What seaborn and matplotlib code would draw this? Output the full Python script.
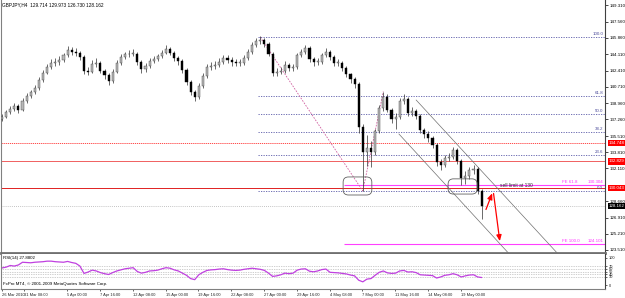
import numpy as np
import pandas as pd
import matplotlib
matplotlib.use("Agg")
import matplotlib.pyplot as plt
import seaborn as sns
from matplotlib.patches import FancyBboxPatch

# ---------------- data ----------------
title_text = "GBPJPY,H4  129.714 129.973 126.730 128.162"

first_open = 137.3
close = [137.5, 138.0, 138.4, 138.7, 138.3, 139.2, 139.7, 140.1, 140.6, 141.4,
         142.2, 142.8, 143.2, 143.3, 143.5, 144.0, 144.6, 144.4, 144.3, 143.8,
         142.4, 142.3, 143.1, 143.2, 142.4, 141.9, 141.3, 142.3, 143.2, 143.8,
         144.1, 144.2, 144.2, 143.3, 142.6, 142.9, 143.4, 143.6, 143.9, 144.3,
         144.7, 144.3, 143.7, 143.4, 142.5, 141.2, 140.2, 139.6, 140.8, 141.8,
         142.8, 142.9, 143.0, 143.3, 143.7, 143.5, 143.3, 143.2, 143.2, 143.7,
         144.4, 145.1, 145.5, 145.6, 145.2, 144.2, 142.1, 142.3, 142.4, 143.0,
         142.7, 142.8, 144.0, 144.4, 144.8, 143.6, 143.3, 143.3, 144.0, 144.4,
         143.8, 143.2, 143.2, 142.7, 142.0, 141.5, 141.0, 136.5, 133.8, 134.3,
         133.8, 136.0, 138.5, 139.6, 138.3, 137.3, 137.5, 139.2, 139.4, 137.9,
         138.1, 137.6, 136.1, 135.7, 135.3, 134.6, 132.8, 132.5, 133.2, 133.3,
         134.0, 132.9, 131.1, 131.3, 131.9, 132.0, 129.714, 128.162]
high = [137.8, 138.3, 138.7, 139.0, 138.9, 139.5, 140.0, 140.4, 140.9, 141.7,
        142.5, 143.1, 143.6, 143.7, 143.9, 144.3, 145.0, 144.9, 144.8, 144.5,
        144.0, 142.8, 143.5, 143.7, 143.4, 142.6, 142.1, 142.6, 143.5, 144.1,
        144.4, 144.6, 144.7, 144.4, 143.5, 143.2, 143.7, 143.9, 144.2, 144.6,
        145.1, 144.9, 144.5, 143.9, 143.6, 142.7, 141.4, 140.4, 141.1, 142.1,
        143.1, 143.3, 143.4, 143.7, 144.0, 144.0, 143.8, 143.6, 143.6, 144.0,
        144.7, 145.4, 145.8, 146.0, 145.8, 145.4, 144.4, 142.7, 142.8, 143.4,
        143.2, 143.1, 144.3, 144.7, 145.1, 145.0, 143.8, 143.7, 144.3, 144.8,
        144.6, 144.0, 143.6, 143.4, 142.9, 142.2, 141.7, 141.2, 136.8, 135.6,
        135.0, 136.3, 138.8, 140.2, 139.9, 138.5, 137.9, 139.5, 139.9, 139.6,
        138.6, 138.4, 137.8, 136.4, 136.0, 135.5, 134.8, 133.1, 133.5, 133.7,
        134.4, 134.2, 133.1, 131.8, 132.3, 132.5, 132.2, 129.973]
low = [137.1, 137.4, 137.8, 138.2, 137.9, 138.1, 139.0, 139.5, 139.9, 140.4,
       141.2, 142.0, 142.6, 142.9, 143.0, 143.3, 143.8, 144.0, 143.9, 143.5,
       142.0, 141.9, 142.1, 142.8, 142.1, 141.5, 140.9, 141.1, 142.1, 143.0,
       143.6, 143.8, 143.9, 143.0, 142.2, 142.3, 142.7, 143.2, 143.4, 143.7,
       144.1, 144.0, 143.4, 143.0, 142.2, 140.9, 139.8, 139.2, 139.4, 140.6,
       141.6, 142.5, 142.6, 142.8, 143.1, 143.2, 142.9, 142.9, 142.9, 143.0,
       143.5, 144.2, 144.9, 145.2, 144.9, 143.9, 141.8, 141.8, 142.0, 142.2,
       142.4, 142.4, 142.6, 143.8, 144.2, 143.3, 142.9, 143.0, 143.1, 143.8,
       143.5, 142.9, 142.9, 142.4, 141.7, 141.1, 140.6, 135.8, 129.7, 132.4,
       132.2, 133.5, 135.8, 138.2, 138.0, 136.9, 136.3, 137.3, 138.9, 137.6,
       137.6, 137.3, 135.8, 135.3, 134.9, 134.2, 132.4, 131.9, 132.2, 132.9,
       133.1, 132.6, 130.4, 130.5, 131.0, 131.5, 129.4, 126.73]

rsi = [63, 66, 72, 70, 74, 84, 83, 82, 84, 85,
       86, 88, 88, 86, 85, 84, 87, 83, 80, 70,
       43, 48, 55, 52, 46, 42, 39, 46, 52, 56,
       60, 62, 64, 50, 44, 47, 52, 53, 55, 60,
       64, 62, 56, 52, 44, 36, 24, 20, 38, 47,
       54, 56, 57, 59, 60, 57, 55, 54, 55, 58,
       60, 62, 60, 58, 54, 44, 32, 34, 38, 44,
       42, 44, 55, 59, 60, 51, 49, 52, 57, 59,
       47, 46, 45, 43, 41, 37, 34, 18, 12, 22,
       24, 36, 47, 52, 45, 43, 44, 52, 54, 48,
       49, 46, 38, 37, 36, 35, 26, 30, 36, 38,
       42, 38, 30, 34, 37, 38, 30, 27.88]

price_ticks = [149.310, 147.560, 145.860, 144.110, 142.410, 140.710, 138.960,
               137.260, 135.510, 133.810, 132.110, 128.660, 126.910, 125.210, 123.510]
price_tick_labels = ["149.310", "147.560", "145.860", "144.110", "142.410", "140.710",
                     "138.960", "137.260", "135.510", "133.810", "132.110", "128.660",
                     "126.910", "125.210", "123.510"]

date_pos = [0, 5.4, 15.9, 23.9, 31.9, 39.9, 47.9, 55.9, 63.9, 71.9, 79.9, 87.9, 95.9, 103.9, 111.9]
date_labels = ["26 Mar 2010", "31 Mar 08:00", "5 Apr 00:00", "7 Apr 16:00", "12 Apr 08:00",
               "15 Apr 00:00", "19 Apr 16:00", "22 Apr 08:00", "27 Apr 00:00", "29 Apr 16:00",
               "4 May 08:00", "7 May 00:00", "11 May 16:00", "14 May 08:00", "19 May 00:00"]

fib_names = ["100.0", "61.8", "50.0", "38.2", "23.6", "0.0"]
fib_levels = [145.93, 139.74, 137.83, 135.91, 133.55, 129.72]
fib_start = 62.5

red_levels = [134.748, 132.829, 130.043]
red_labels = ["134.748", "132.829", "130.043"]
bid_level = 128.162

fe_names = ["FE 61.8", "FE 100.0"]
fe_levels = [130.304, 124.101]
fe_labels = ["130.304", "124.101"]
fe_start = 83.5

# fibo-expansion anchors (A high, B low, C high)
fe_anchor_x = [63, 88, 93]
fe_anchor_y = [145.93, 129.72, 140.2]

# channel lines (start, end)
chan_upper_x = [101.0, 135.4]
chan_upper_y = [139.31, 123.19]
chan_lower_x = [96.8, 123.5]
chan_lower_y = [135.73, 123.19]

# projected path arrows
arrow_x = [117.8, 119.8, 121.5]
arrow_y = [127.5, 129.75, 124.15]

# highlighted zones (x0, x1, y0, y1)
zones = [(83.2, 90.2, 129.3, 131.2), (108.8, 115.9, 129.4, 131.0)]

rsi_levels = [70, 60, 50, 40, 30]

# ---------------- style ----------------
sns.set_style("white")
plt.rcParams["font.family"] = ["Liberation Sans", "DejaVu Sans"]
FS = 3.2

W, H = 625, 298
fig = plt.figure(figsize=(W / 100, H / 100), dpi=100)
fig.patch.set_facecolor("white")

def box(l, t, r, b):
    return [l / W, 1 - b / H, (r - l) / W, (b - t) / H]

ax = fig.add_axes(box(1, 0, 605, 253))
ax2 = fig.add_axes(box(1, 254, 605, 289), sharex=ax)

n = len(close)
idx = np.arange(n)
opens = np.array([first_open] + close[:-1])
cl = np.array(close)
df = pd.DataFrame({"k": idx, "open": opens, "close": cl, "high": high, "low": low, "rsi": rsi})

xmin, xmax = -0.244, 147.07
ax.set_xlim(xmin, xmax)
ax.set_ylim(123.19, 149.84)

# horizontal levels
for lv, nm in zip(fib_levels, fib_names):
    ax.hlines(lv, fib_start, xmax, colors="#5a5aa8", linestyles=(0, (1.5, 1.5)), lw=0.6, zorder=1)
    ax.text(0.997, lv + 0.12, nm, transform=ax.get_yaxis_transform(), ha="right", va="bottom",
            fontsize=FS, color="#4a4a9a")

ax.axhline(red_levels[0], color="#ff3030", lw=0.6, ls=(0, (1.5, 1)), zorder=1)
ax.axhline(red_levels[1], color="#f06060", lw=0.7, zorder=1)
ax.axhline(red_levels[2], color="#e02020", lw=0.7, zorder=1)
ax.axhline(bid_level, color="#b0b0b0", lw=0.6, ls=(0, (1, 1.5)), zorder=1)

for lv, nm, lb in zip(fe_levels, fe_names, fe_labels):
    ax.hlines(lv, fe_start, xmax, colors="#ff40ff", lw=0.8, zorder=1)
    ax.text(136.6, lv + 0.12, nm, ha="left", va="bottom", fontsize=FS, color="#ff30ff")
    ax.text(0.997, lv + 0.12, lb, transform=ax.get_yaxis_transform(), ha="right", va="bottom",
            fontsize=FS, color="#ff30ff")

# fibo expansion dashed path
ax.plot(fe_anchor_x, fe_anchor_y, color="#d060a0", lw=0.6, ls=(0, (2, 1.5)), zorder=2)

# channel
ax.plot(chan_upper_x, chan_upper_y, color="#707070", lw=0.5, zorder=2)
ax.plot(chan_lower_x, chan_lower_y, color="#707070", lw=0.5, zorder=2)

# candles
bull = df["close"] >= df["open"]
ax.vlines(df["k"], df["low"], df["high"], colors="#303030", lw=0.5, zorder=3)
body_lo = np.minimum(df["open"], df["close"])
body_h = np.maximum(np.abs(df["close"] - df["open"]), 0.08)
ax.bar(df["k"][bull], body_h[bull], bottom=body_lo[bull], width=0.5,
       color="#b8b8b8", edgecolor="#404040", lw=0.3, zorder=4)
ax.bar(df["k"][~bull], body_h[~bull], bottom=body_lo[~bull], width=0.5,
       color="#000000", edgecolor="#000000", lw=0.3, zorder=4)

# zones
asp = (0.1053) / (1 / 4.1)
for x0, x1, y0, y1 in zones:
    p = FancyBboxPatch((x0, y0), x1 - x0, y1 - y0,
                       boxstyle="round,pad=0,rounding_size=1.3", mutation_aspect=asp,
                       fc="none", ec="#606060", lw=0.6, zorder=5)
    ax.add_patch(p)

# arrows
ax.annotate("", xy=(arrow_x[1], arrow_y[1]), xytext=(arrow_x[0], arrow_y[0]),
            arrowprops=dict(arrowstyle="-|>,head_length=0.35,head_width=0.15", color="#ff0000", lw=0.9),
            zorder=6)
ax.annotate("", xy=(arrow_x[2], arrow_y[2]), xytext=(arrow_x[1], arrow_y[1]),
            arrowprops=dict(arrowstyle="-|>,head_length=0.35,head_width=0.15", color="#ff0000", lw=0.9),
            zorder=6)
ax.text(121.4, 130.05, "sell limit at 130", fontsize=FS + 0.3, color="#303030", va="bottom", ha="left")

# right price axis
ax.yaxis.tick_right()
ax.set_yticks(price_ticks)
ax.set_yticklabels(price_tick_labels)
ax.tick_params(axis="y", labelsize=FS, length=2, width=0.5, pad=1, colors="#000000", right=True, left=False)
ax.tick_params(axis="x", bottom=False, labelbottom=False)

for lv, lb in zip(red_levels, red_labels):
    ax.text(1.006, lv, lb, transform=ax.get_yaxis_transform(), fontsize=FS, color="white",
            va="center", ha="left", clip_on=False, zorder=10,
            bbox=dict(boxstyle="square,pad=0.25", fc="#ff0000", ec="none"))
ax.text(1.006, bid_level, "128.162", transform=ax.get_yaxis_transform(), fontsize=FS, color="white",
        va="center", ha="left", clip_on=False, zorder=10,
        bbox=dict(boxstyle="square,pad=0.25", fc="#000000", ec="none"))

ax.spines["top"].set_visible(False)
ax.spines["left"].set_color("#808080"); ax.spines["left"].set_linewidth(0.8)
ax.spines["right"].set_color("#404040"); ax.spines["right"].set_linewidth(0.8)
ax.spines["bottom"].set_color("#707070"); ax.spines["bottom"].set_linewidth(2.0)

# RSI panel
sns.lineplot(data=df, x="k", y="rsi", ax=ax2, color="#c040e0", lw=0.9)
for lv in rsi_levels:
    ax2.axhline(lv, color="#a0a0a0", lw=0.5, ls=(0, (1, 1.5)), zorder=0)
ax2.set_ylim(-14.3, 114.3)
ax2.set_xlim(xmin, xmax)
ax2.yaxis.tick_right()
ax2.set_yticks([0] + rsi_levels + [100])
ax2.set_yticklabels(["0"] + [str(v) for v in rsi_levels] + ["100"])
ax2.tick_params(axis="y", labelsize=FS - 0.3, length=1.5, width=0.5, pad=1, right=True, left=False)
ax2.set_xticks(date_pos)
ax2.set_xticklabels(date_labels, ha="left")
ax2.tick_params(axis="x", labelsize=FS - 0.3, length=1.5, width=0.5, pad=1.2, bottom=True)
ax2.set_xlabel(""); ax2.set_ylabel("")
ax2.spines["top"].set_visible(False)
ax2.spines["left"].set_color("#808080"); ax2.spines["left"].set_linewidth(0.8)
ax2.spines["right"].set_color("#404040"); ax2.spines["right"].set_linewidth(0.8)
ax2.spines["bottom"].set_color("#808080"); ax2.spines["bottom"].set_linewidth(0.8)

fig.text(2 / W, 1 - 5 / H, title_text, fontsize=FS + 0.2, va="center", ha="left", color="#000000")
fig.text(3 / W, 1 - 258 / H, "RSI(14) 27.8802", fontsize=FS, va="center", ha="left", color="#000000")
fig.text(3 / W, 1 - 284 / H, "FxPro MT4, \u00a9 2001-2009 MetaQuotes Software Corp.", fontsize=FS,
         va="center", ha="left", color="#000000")

fig.savefig("out.png", dpi=100, facecolor="white")
